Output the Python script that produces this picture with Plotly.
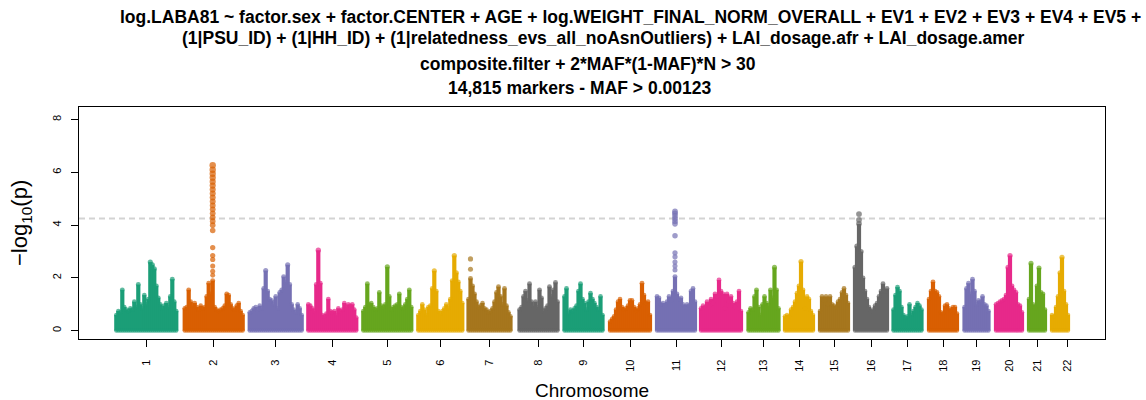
import plotly.graph_objects as go

# ---------------- data ----------------
chromosomes = [str(i) for i in range(1, 23)]

# genomic extent of each chromosome on the cumulative x axis (axis units)
chrom_start = [37.3, 105.7, 170.7, 229.3, 284.3, 339.3, 389.5, 440.5, 485.5, 531.0, 578.0,
               622.0, 669.5, 706.0, 741.0, 776.0, 814.5, 850.0, 885.5, 917.0, 950.0, 973.0]
chrom_end = [97.3, 163.7, 222.7, 277.3, 332.3, 383.3, 431.5, 478.5, 523.5, 571.0, 616.0,
             662.0, 699.5, 734.0, 769.0, 808.0, 842.5, 878.0, 909.5, 943.0, 966.0, 1003.0]
marker_step = 2.0  # spacing between successive marker windows

# -log10(p) of the marker windows, left to right, per chromosome
chr1 = [0.6, 0.75, 0.7, 1.55, 0.9, 0.8, 0.75, 0.85, 0.8, 1.1, 0.9, 1.75, 1.0, 0.85, 1.35, 1.0,
        1.2, 2.6, 2.5, 2.35, 1.7, 1.25, 1.0, 0.85, 0.95, 1.05, 0.9, 1.3, 1.95, 1.1, 0.75]
chr2 = [0.85, 0.9, 1.55, 1.1, 0.95, 1.05, 0.9, 0.8, 0.95, 0.85, 0.9, 1.3, 1.8, 1.4, 1.9,
        0.9, 0.8, 0.75, 0.8, 0.85, 0.95, 1.4, 1.35, 1.0, 0.85, 0.8, 0.95, 1.05, 0.75, 0.6]
chr3 = [0.7, 0.75, 0.85, 0.9, 0.8, 0.95, 0.85, 1.6, 2.28, 1.5, 1.2, 1.15, 1.0, 1.3, 0.85,
        1.45, 1.55, 2.05, 1.85, 2.5, 1.75, 1.0, 0.8, 0.7, 1.0, 0.85, 0.6]
chr4 = [1.0, 0.95, 0.85, 0.75, 1.75, 3.05, 1.8, 0.6, 0.55, 0.65, 1.2, 0.75, 0.7, 0.75, 0.6,
        0.85, 0.75, 0.8, 1.05, 0.9, 1.0, 0.95, 1.0, 0.8, 0.5]
chr5 = [0.75, 0.9, 1.78, 1.0, 1.05, 0.9, 0.8, 0.85, 1.45, 0.95, 0.9, 1.0, 2.42, 1.3, 0.8,
        0.9, 0.95, 1.0, 1.4, 0.9, 0.85, 1.0, 1.2, 1.55, 0.9]
chr6 = [0.6, 0.75, 1.0, 0.8, 0.6, 0.9, 0.95, 1.6, 2.27, 1.5, 0.75, 0.65, 0.75, 0.85, 1.0,
        0.85, 1.2, 1.9, 2.85, 2.2, 1.85, 1.5, 1.05]
chr7 = [1.2, 1.98, 1.7, 1.4, 1.1, 0.9, 0.95, 1.05, 0.85, 0.8, 0.7, 0.75, 0.85, 1.1, 1.45,
        1.67, 1.3, 1.0, 1.6, 0.95, 0.7, 0.55]
chr8 = [0.8, 0.9, 1.3, 1.5, 1.15, 1.78, 1.1, 0.95, 1.1, 0.9, 1.55, 1.25, 0.75, 0.85, 0.95,
        1.67, 1.3, 1.55, 1.83, 1.1]
chr9 = [1.3, 1.6, 0.65, 0.8, 0.75, 0.85, 0.95, 1.5, 1.78, 1.2, 1.05, 0.8, 1.1, 1.42, 1.2,
        1.05, 0.9, 0.8, 1.3, 0.6]
chr10 = [0.35, 0.45, 0.55, 0.8, 1.1, 1.2, 0.9, 0.8, 0.85, 0.95, 1.15, 1.15, 0.9, 0.75, 0.85,
         1.0, 1.8, 1.35, 1.05, 1.1, 0.6]
chr11 = [1.3, 1.25, 1.0, 1.05, 0.95, 1.1, 1.3, 1.15, 1.5, 2.05, 1.4, 1.2, 1.25, 1.0, 0.9,
         1.0, 0.95, 1.5, 1.6, 1.1]
chr12 = [0.85, 0.95, 0.9, 1.1, 0.9, 1.2, 1.05, 1.4, 1.3, 1.92, 1.5, 1.4, 0.85, 1.4, 1.1,
         1.3, 1.05, 0.9, 1.1, 1.5, 0.75]
chr13 = [0.7, 0.85, 0.8, 1.3, 1.55, 0.9, 0.6, 1.0, 1.3, 1.05, 0.95, 1.55, 1.25, 2.4, 1.55, 0.85]
chr14 = [0.55, 0.6, 0.55, 0.8, 0.9, 1.1, 1.42, 1.7, 2.62, 1.55, 0.85, 1.3, 1.2, 0.75, 0.6]
chr15 = [0.75, 1.3, 1.15, 1.3, 1.0, 1.3, 1.0, 0.95, 0.9, 1.1, 1.2, 1.45, 1.6, 1.35, 1.05]
chr16 = [2.4, 3.2, 4.05, 3.0, 2.0, 1.5, 1.2, 0.9, 0.75, 0.8, 0.95, 1.05, 1.3, 1.5, 1.78, 1.5, 1.6]
chr17 = [0.8, 1.35, 1.65, 1.5, 0.9, 0.6, 0.5, 0.55, 1.0, 0.6, 0.75, 0.9, 1.05, 0.95, 0.8]
chr18 = [1.2, 1.5, 1.85, 1.5, 1.45, 1.3, 0.7, 0.65, 0.95, 1.0, 0.85, 0.75, 0.9, 0.9, 0.65]
chr19 = [0.9, 1.6, 1.8, 1.4, 1.95, 1.5, 1.0, 1.15, 1.1, 1.3, 1.0, 0.95, 0.75]
chr20 = [1.0, 1.05, 1.1, 1.15, 1.2, 1.35, 2.4, 2.85, 1.7, 1.55, 1.45, 1.0, 0.95, 0.7]
chr21 = [1.2, 2.55, 1.0, 0.85, 1.7, 2.38, 1.45, 1.4, 0.8]
chr22 = [0.6, 0.55, 0.9, 1.3, 2.2, 2.78, 1.5, 1.0, 0.6]

chrom_values = [chr1, chr2, chr3, chr4, chr5, chr6, chr7, chr8, chr9, chr10, chr11,
                chr12, chr13, chr14, chr15, chr16, chr17, chr18, chr19, chr20, chr21, chr22]

# separated single markers above a window: chromosome, window index, values
hit_chrom = [2, 7, 11, 16]
hit_window = [14, 1, 9, 2]
hit_values = [
    [2.1, 2.25, 2.45, 2.7, 2.85, 3.15, 3.8, 4.0, 4.15, 4.3, 4.45, 4.6, 4.75, 4.9, 5.05,
     5.2, 5.35, 5.5, 5.65, 5.8, 5.95, 6.1, 6.27],
    [2.33, 2.72],
    [2.3, 2.45, 2.6, 2.8, 2.95, 3.6, 4.05, 4.15, 4.25, 4.35, 4.45, 4.52],
    [4.2, 4.42],
]

threshold = 4.25
y_ticks = [0, 2, 4, 6, 8]

title_lines = [
    "log.LABA81 ~ factor.sex + factor.CENTER + AGE + log.WEIGHT_FINAL_NORM_OVERALL + EV1 + EV2 + EV3 + EV4 + EV5 +",
    "(1|PSU_ID) + (1|HH_ID) + (1|relatedness_evs_all_noAsnOutliers) + LAI_dosage.afr + LAI_dosage.amer",
    "composite.filter + 2*MAF*(1-MAF)*N > 30",
    "14,815 markers - MAF > 0.00123",
]

# ---------------- style ----------------
palette = ["#1B9E77", "#D95F02", "#7570B3", "#E7298A", "#66A61E", "#E6AB02", "#A6761D", "#666666"]

W, H = 1146, 400
ML, MR, MT, MB = 79, 41, 107, 61
PW, PH = W - ML - MR, H - MT - MB
XR = [0, PW]
YR = [-0.315, 8.48]

def size_of(v):
    return 4.2 + 0.36 * v

fig = go.Figure()

fig.add_shape(type="line", xref="paper", x0=0, x1=1, yref="y", y0=threshold, y1=threshold,
              line=dict(color="#D3D3D3", width=2, dash="6px,4px"), layer="below")

for ci, vals in enumerate(chrom_values):
    col = palette[ci % len(palette)]
    xs = [chrom_start[ci] + i * marker_step for i in range(len(vals))]
    sx, sy = [], []
    for x, v in zip(xs, vals):
        sx += [x, x, None]
        sy += [0, v, None]
    fig.add_trace(go.Scatter(x=sx, y=sy, mode="lines", line=dict(color=col, width=4.2),
                             hoverinfo="skip", showlegend=False))
    mx, my = list(xs), list(vals)
    mx += [x for x in xs]
    my += [0] * len(xs)
    if (ci + 1) in hit_chrom:
        k = hit_chrom.index(ci + 1)
        xh = xs[hit_window[k]]
        mx += [xh] * len(hit_values[k])
        my += hit_values[k]
    fig.add_trace(go.Scatter(x=mx, y=my, mode="markers",
                             marker=dict(color=col, size=[size_of(v) for v in my], line=dict(width=0)),
                             showlegend=False))

centers = [(s + e) / 2 for s, e in zip(chrom_start, chrom_end)]

tick_font = dict(family="Liberation Sans, Arial", size=11, color="#000")
fig.update_xaxes(range=XR, tickvals=centers, ticktext=chromosomes, tickangle=-90,
                 ticks="outside", ticklen=7, tickwidth=1, tickcolor="#000", ticklabelstandoff=8,
                 tickfont=tick_font,
                 showline=True, mirror=True, linecolor="#000", linewidth=1.3,
                 showgrid=False, zeroline=False)
fig.update_yaxes(range=YR, tickvals=y_ticks, ticktext=[str(t) for t in y_ticks], tickangle=-90,
                 ticks="outside", ticklen=7, tickwidth=1, tickcolor="#000", ticklabelstandoff=5,
                 tickfont=tick_font,
                 showline=True, mirror=True, linecolor="#000", linewidth=1.3,
                 showgrid=False, zeroline=False)

def px_to_paper_x(px):
    return (px - ML) / PW

def px_to_paper_y(py):
    return (H - MB - py) / PH

title_font = dict(family="Liberation Sans, Arial", size=17.5, color="#000")
title_pos = [(630, 17), (603.5, 38), (588, 64), (579, 88)]
for txt, (cx, cy) in zip(title_lines, title_pos):
    fig.add_annotation(text="<b>" + txt + "</b>", xref="paper", yref="paper",
                       x=px_to_paper_x(cx), y=px_to_paper_y(cy), xanchor="center", yanchor="middle",
                       showarrow=False, font=title_font)

axis_font = dict(family="Liberation Sans, Arial", size=19, color="#000")
fig.add_annotation(text="Chromosome", xref="paper", yref="paper",
                   x=px_to_paper_x(592), y=px_to_paper_y(390), xanchor="center", yanchor="middle",
                   showarrow=False, font=axis_font)
fig.add_annotation(text="\u2212log<sub>10</sub>(p)", xref="paper", yref="paper",
                   x=px_to_paper_x(21), y=px_to_paper_y(223), xanchor="center", yanchor="middle",
                   textangle=-90, showarrow=False, font=dict(family="Liberation Sans, Arial", size=22, color="#000"))

fig.update_layout(width=W, height=H, margin=dict(l=ML, r=MR, t=MT, b=MB, pad=0),
                  plot_bgcolor="white", paper_bgcolor="white", showlegend=False)

fig.write_html("out.html")
